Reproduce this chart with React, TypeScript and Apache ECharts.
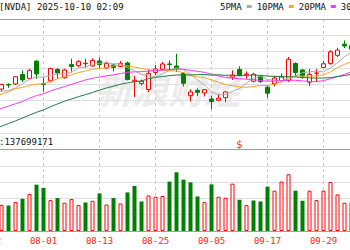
import React, { useEffect, useRef } from 'react';
import * as echarts from 'echarts';

const titleText = '[NVDA] 2025-10-10 02:09';
const volumeLabel = ':137699171';
const watermark = '新浪财经';
const maNames = ['5PMA', '10PMA', '20PMA', '30PMA'];
const dividendDate = '09-11';

const dates = ['07-22','07-23','07-24','07-25','07-28','07-29','07-30','07-31','08-01','08-04','08-05','08-06','08-07','08-08','08-11','08-12','08-13','08-14','08-15','08-18','08-19','08-20','08-21','08-22','08-25','08-26','08-27','08-28','08-29','09-02','09-03','09-04','09-05','09-08','09-09','09-10','09-11','09-12','09-15','09-16','09-17','09-18','09-19','09-22','09-23','09-24','09-25','09-26','09-29','09-30','10-01','10-02','10-03'];

const opens = [null,null,171.9,173.65,173.9,177.65,176.1,182.9,174.09,175.16,179.62,176.33,181.56,181.1,181.9,181.0,182.97,180.21,181.39,180.8,182.18,175.0,174.11,171.74,178.44,179.7,181.78,181.0,178.1,169.3,171.35,170.37,168.0,167.5,168.5,176.6,179.62,177.5,175.0,176.9,172.64,174.0,175.2,175.3,181.97,179.4,174.6,178.1,180.43,182.0,185.2,189.6,189.0];
const highs = [null,null,174.0,174.2,176.9,179.2,179.9,183.3,176.54,180.26,180.26,179.89,183.88,183.3,183.85,183.95,184.34,182.77,181.78,182.97,182.77,177.0,175.68,179.42,181.39,182.57,183.16,185.8,178.6,171.8,172.14,171.9,169.3,170.0,171.2,179.3,180.9,178.8,178.3,177.3,173.2,177.1,178.0,184.55,182.42,179.8,179.8,179.8,182.9,187.2,188.2,191.05,190.0];
const lows = [null,null,171.1,172.4,173.5,174.7,175.9,175.9,170.89,174.52,175.9,176.04,178.8,180.6,180.25,180.8,180.21,180.01,178.83,180.6,175.29,168.8,173.32,170.76,177.45,179.42,179.03,178.63,172.9,167.0,169.19,168.99,164.0,167.2,166.7,175.5,177.06,176.0,174.5,174.4,168.41,173.0,174.8,174.71,177.0,175.9,173.1,174.9,180.32,181.5,184.5,188.06,186.0];
const closes = [null,null,173.74,173.5,176.75,175.51,179.27,177.87,173.72,180.0,178.26,179.42,180.77,182.7,182.06,183.16,181.59,182.02,180.45,182.01,175.64,175.4,174.98,177.99,179.81,181.77,181.6,180.17,174.18,170.78,170.62,171.66,167.02,168.31,170.76,177.33,177.17,177.82,177.75,174.88,170.29,176.24,176.67,183.61,178.43,176.97,177.69,178.19,181.85,186.58,187.24,188.89,187.62];

// volume in millions of shares
const volumes = [null,null,125.3,121.9,138.3,154.2,176.9,221.7,205.8,148.0,157.6,135.0,152.8,123.9,136.4,144.6,179.8,126.8,157.6,131.6,184.6,215.5,141.2,170.1,163.9,167.3,236.2,281.0,245.8,232.8,165.3,138.3,223.2,163.9,159.1,226.5,149.4,123.9,146.0,141.2,212.1,192.8,236.2,271.4,192.8,144.6,192.8,148.0,192.8,234.7,175.0,135.0,135.0];

const ma5 = ['-',170.92,171.07,171.29,172.36,174.06,175.75,176.58,176.62,177.27,177.82,177.85,178.43,180.23,180.64,181.62,182.06,182.31,181.86,181.85,180.34,179.10,177.70,177.20,176.76,177.99,179.23,180.27,179.51,177.70,175.47,173.48,170.85,169.68,169.67,171.02,172.12,174.28,176.17,176.99,175.58,175.40,175.17,176.34,177.05,178.38,178.67,178.98,178.63,180.26,182.31,184.55,186.44];
const ma10 = ['-',168.98,169.94,170.80,172.07,172.55,173.34,173.83,173.96,174.82,175.94,176.80,177.51,178.43,178.96,179.72,179.96,180.37,181.05,181.25,180.98,180.58,180.01,179.53,179.31,179.17,179.17,178.99,178.36,177.23,176.73,176.36,175.56,174.60,173.69,173.25,172.80,172.57,172.93,173.33,173.30,173.76,174.73,176.26,177.02,176.98,177.04,177.08,177.49,178.66,180.35,181.61,182.71];
const ma20 = ['-',163.29,164.26,165.19,166.14,167.01,168.31,169.34,170.06,171.15,172.06,172.89,173.72,174.61,175.51,176.14,176.65,177.10,177.50,178.03,178.46,178.69,178.75,178.98,179.13,179.44,179.56,179.68,179.70,179.24,178.86,178.47,177.78,177.06,176.50,176.20,175.98,175.77,175.64,175.28,175.01,175.06,175.14,175.42,175.35,175.11,174.92,174.82,175.20,175.99,176.82,177.68,178.71];
const ma30 = ['-',156.29,157.29,158.31,159.37,160.49,161.64,162.76,163.70,164.91,166.05,167.10,167.98,168.90,169.71,170.55,171.49,172.32,173.02,173.81,174.34,174.75,175.12,175.95,176.48,176.85,177.19,177.43,177.48,177.46,177.58,177.61,177.39,177.52,177.32,177.38,177.31,177.31,177.44,177.27,177.00,176.90,176.76,176.79,176.67,176.46,176.33,176.21,176.25,176.41,176.79,177.24,177.66];

const FONT = 'DejaVu Sans Mono';
const RED = '#ff0000';
const GREEN = '#008000';
const MA_COLORS = ['#aaaaaa', '#f5a623', '#ff33ff', '#227a43'];

// the chart canvas is wider than the 350px view and shifted left, so it is cropped like the reference
const OFFSET = 40;

export default function App() {
  const ref = useRef<HTMLDivElement>(null);
  useEffect(() => {
    if (!ref.current) return;
    const chart = echarts.init(ref.current, null, { renderer: 'svg' });
    const GL = OFFSET - 12.5;
    const GW = 364;

    const candleRows: any[] = [];
    dates.forEach((_, k) => {
      if (opens[k] != null) candleRows.push([k, opens[k], closes[k], lows[k], highs[k]]);
    });

    const volData = volumes.map((v, k) => {
      if (v == null) return '-';
      const prev = closes[k - 1] != null ? (closes[k - 1] as number) : (opens[k] as number);
      const up = (closes[k] as number) >= prev;
      return {
        value: v,
        itemStyle: up
          ? { color: '#ffffff', borderColor: RED, borderWidth: 1 }
          : { color: GREEN, borderColor: GREEN, borderWidth: 0 },
      };
    });

    const mas = [ma5, ma10, ma20, ma30];
    const hiddenCat = (gridIndex: number) => ({
      type: 'category',
      gridIndex,
      data: dates,
      boundaryGap: false,
      position: 'top',
      axisLine: { show: true, onZero: false, lineStyle: { color: '#a0a0a0', width: 1 } },
      axisTick: { show: false },
      axisLabel: { show: false },
      splitLine: { show: false },
    });

    const option: any = {
      animation: false,
      backgroundColor: '#ffffff',
      title: {
        text: titleText,
        left: OFFSET - 1,
        top: 2,
        padding: 0,
        textStyle: { fontFamily: FONT, fontSize: 9, fontWeight: 'normal', color: '#111' },
      },
      legend: {
        left: OFFSET + 220,
        top: 2,
        padding: 0,
        width: 200,
        align: 'right',
        icon: 'rect',
        itemWidth: 5,
        itemHeight: 3,
        itemGap: 5,
        textStyle: { fontFamily: FONT, fontSize: 9, color: '#111' },
        data: maNames,
      },
      grid: [
        { left: GL, width: GW, top: 19, height: 212 },
        { left: GL, width: GW, top: 19, height: 115 },
        { left: GL, width: GW, top: 149.5, height: 81.5 },
      ],
      xAxis: [
        {
          type: 'category',
          gridIndex: 0,
          data: dates,
          boundaryGap: false,
          axisLine: { show: true, lineStyle: { color: '#a0a0a0' } },
          axisTick: { show: false },
          axisLabel: { interval: 7, color: '#ff2222', fontFamily: FONT, fontSize: 9, margin: 5 },
          splitLine: { show: true, interval: 7, lineStyle: { color: '#c8c8c8', type: [3, 3], width: 1 } },
        },
        hiddenCat(1),
        hiddenCat(2),
      ],
      yAxis: [
        {
          type: 'value',
          gridIndex: 0,
          min: 0,
          max: 13,
          interval: 1,
          axisLine: { show: false },
          axisTick: { show: false },
          axisLabel: { show: false },
          splitLine: { show: true, lineStyle: { color: '#e0e0e0', width: 1 } },
        },
        { type: 'value', gridIndex: 1, min: 154.2, max: 199.5, show: false, splitLine: { show: false } },
        { type: 'value', gridIndex: 2, min: 0, max: 390, show: false, splitLine: { show: false } },
      ],
      graphic: [
        {
          type: 'text',
          x: OFFSET + 96,
          y: 88,
          z: -1,
          silent: true,
          style: {
            text: watermark,
            font: 'italic bold 36px "Noto Sans CJK SC"',
            fill: '#ebebeb',
            verticalAlign: 'middle',
          },
        },
        {
          type: 'text',
          x: OFFSET - 1,
          y: 142,
          style: {
            text: volumeLabel,
            font: `9px "${FONT}"`,
            fill: '#111',
            verticalAlign: 'middle',
          },
        },
      ],
      series: [
        {
          name: 'K',
          type: 'candlestick',
          xAxisIndex: 1,
          yAxisIndex: 1,
          barWidth: 4,
          data: candleRows,
          encode: { x: 0, y: [1, 2, 3, 4] },
          itemStyle: {
            color: '#ffffff',
            color0: GREEN,
            borderColor: RED,
            borderColor0: GREEN,
            borderWidth: 1,
          },
        },
        ...mas.map((arr, i) => ({
          name: maNames[i],
          type: 'line',
          xAxisIndex: 1,
          yAxisIndex: 1,
          data: arr,
          symbol: 'none',
          showSymbol: false,
          color: MA_COLORS[i],
          itemStyle: { color: MA_COLORS[i] },
          lineStyle: { color: MA_COLORS[i], width: 1 },
          z: 3,
        })),
        {
          name: 'VOL',
          type: 'bar',
          xAxisIndex: 2,
          yAxisIndex: 2,
          barWidth: 4,
          data: volData,
        },
        {
          name: 'DIV',
          type: 'scatter',
          xAxisIndex: 0,
          yAxisIndex: 0,
          symbolSize: 1,
          itemStyle: { color: 'transparent' },
          data: [[dates.indexOf(dividendDate), 5.33]],
          label: {
            show: true,
            position: 'inside',
            formatter: '$',
            color: RED,
            fontFamily: 'DejaVu Sans',
            fontSize: 11,
          },
        },
      ],
    };
    chart.setOption(option);
    return () => chart.dispose();
  }, []);
  return (
    <div
      ref={ref}
      style={{ position: 'fixed', left: -OFFSET, top: 0, width: 350 + OFFSET + 40, height: 250, background: '#fff' }}
    />
  );
}
